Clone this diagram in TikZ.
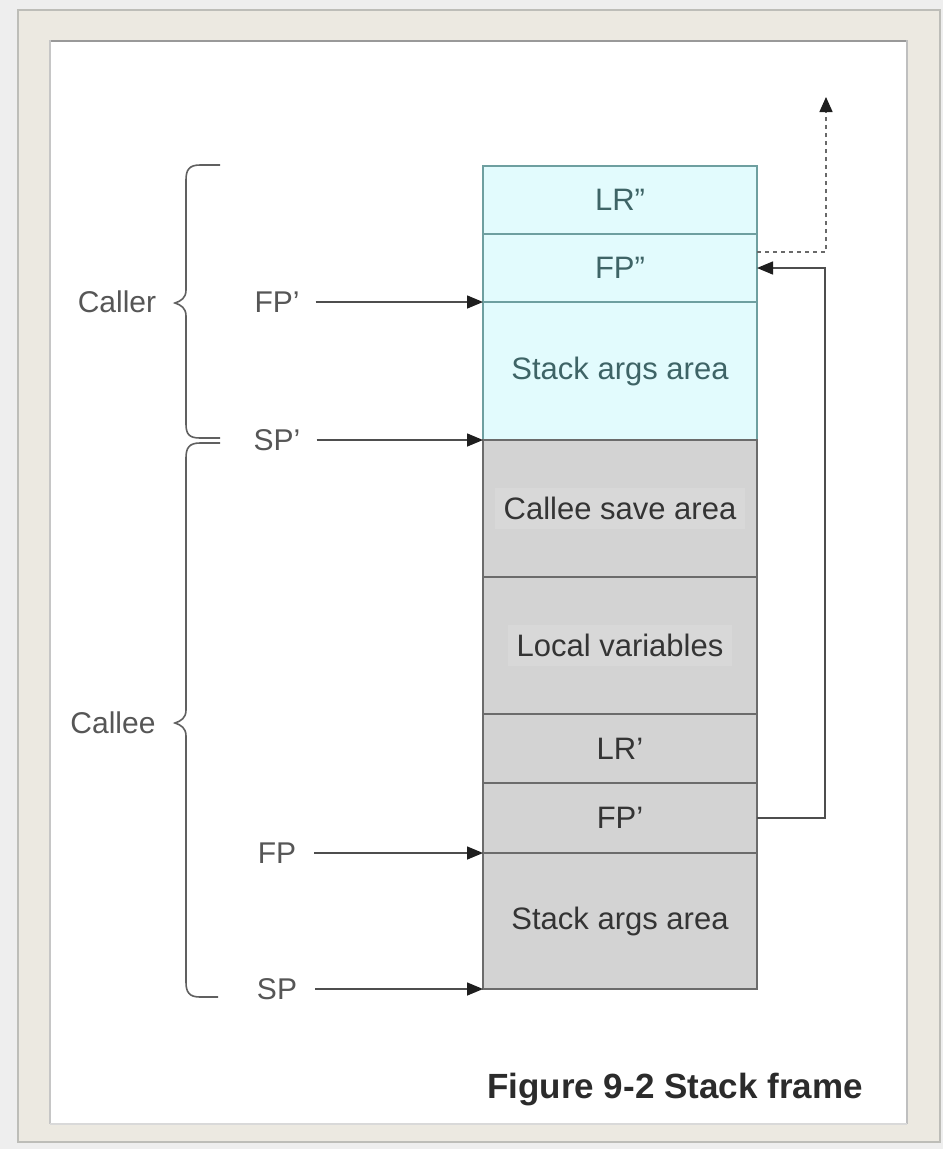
\documentclass[tikz,border=0pt]{standalone}
\usepackage{fontspec}
\setmainfont{Liberation Sans}
\usetikzlibrary{arrows.meta,calc}
\definecolor{bgout}{HTML}{EEEEEE}
\definecolor{framec}{HTML}{ECE9E1}
\definecolor{frameline}{HTML}{BDBDB8}
\definecolor{cyanfill}{HTML}{E2FBFD}
\definecolor{cyanedge}{HTML}{6E9FA0}
\definecolor{cyantext}{HTML}{3E6466}
\definecolor{greyfill}{HTML}{D3D3D3}
\definecolor{greyedge}{HTML}{6B6B6B}
\definecolor{greytext}{HTML}{343434}
\definecolor{lighttextbg}{HTML}{D8D8D8}
\definecolor{sidetext}{HTML}{565656}
\definecolor{linec}{HTML}{4E4E4E}
\definecolor{tipc}{HTML}{1E1E1E}
\definecolor{captionc}{HTML}{2B2B2B}
\begin{document}
\begin{tikzpicture}[x=1pt,y=-1pt,
  cellbase/.style={draw, line width=1.4pt, anchor=north west, minimum width=274pt,
    inner sep=0pt, outer sep=0pt, font=\fontsize{31}{37}\selectfont},
  cyancell/.style={cellbase, draw=cyanedge, fill=cyanfill, text=cyantext},
  greycell/.style={cellbase, draw=greyedge, fill=greyfill, text=greytext},
  sidelabel/.style={text=sidetext, font=\fontsize{30}{36}\selectfont, inner sep=0pt},
  ptr/.style={draw=linec, line width=1.5pt, -{Triangle[length=16pt,width=13pt,color=tipc]}},
  dashptr/.style={draw=linec!85, line width=1.5pt, dash pattern=on 4pt off 4pt,
    -{Triangle[length=15pt,width=13pt,color=tipc]}},
  bracestyle/.style={draw=linec!90, line width=1.6pt}
]
\useasboundingbox (0,0) rectangle (943,1149);
% background and frame
\fill[bgout] (0,0) rectangle (943,1149);
\fill[framec, draw=frameline, line width=1.5pt] (18,10) rectangle (940,1142);
\fill[white] (50,40) rectangle (907,1124);
\draw[gray!80, line width=2.2pt] (50,41) -- (907,41);
\draw[gray!45, line width=1.5pt] (50,40) -- (50,1124);
\draw[gray!50, line width=1.5pt] (907,40) -- (907,1124);
\draw[gray!30, line width=1.2pt] (50,1124) -- (907,1124);

% stack cells
\node[cyancell, minimum height=68pt] (lr2) at (483,166) {LR''};
\node[cyancell, minimum height=68pt] (fp2) at (483,234) {FP''};
\node[cyancell, minimum height=138pt] (sa1) at (483,302) {Stack args area};
\node[greycell, minimum height=137pt] (csa) at (483,440) {\setlength{\fboxsep}{9pt}\colorbox{lighttextbg}{Callee save area}};
\node[greycell, minimum height=137pt] (lv) at (483,577) {\setlength{\fboxsep}{9pt}\colorbox{lighttextbg}{Local variables}};
\node[greycell, minimum height=69pt] (lr1) at (483,714) {LR'};
\node[greycell, minimum height=70pt] (fp1) at (483,783) {FP'};
\node[greycell, minimum height=136pt] (sa2) at (483,853) {Stack args area};

% pointer labels
\node[sidelabel] (lfpp) at ($(sa1.north west)+(-206,0)$) {FP'};
\node[sidelabel] (lspp) at ($(csa.north west)+(-206,0)$) {SP'};
\node[sidelabel] (lfp) at ($(sa2.north west)+(-206,0)$) {FP};
\node[sidelabel] (lsp) at ($(sa2.south west)+(-206,0)$) {SP};

\draw[ptr] ([xshift=16pt]lfpp.east) -- (sa1.north west);
\draw[ptr] ([xshift=16pt]lspp.east) -- (csa.north west);
\draw[ptr] ([xshift=18pt]lfp.east) -- (sa2.north west);
\draw[ptr] ([xshift=18pt]lsp.east) -- (sa2.south west);

% saved frame pointer link
\draw[ptr] (fp1.east) -- ++(68,0) |- (fp2.east);
\coordinate (up) at (826,97);
\draw[dashptr] ([yshift=16pt]fp2.east) -| (up);

% braces
\node[sidelabel] (caller) at (117,302) {Caller};
\node[sidelabel] (callee) at (113,723) {Callee};
\draw[bracestyle] (220,165) -- (200,165) .. controls (189,165) and (186,170) .. (186,180)
  -- (186,290) .. controls (186,298) and (181,301) .. (175,303)
  .. controls (181,305) and (186,308) .. (186,316)
  -- (186,424) .. controls (186,434) and (189,438) .. (200,438) -- (220,438);
\draw[bracestyle] (220,443) -- (200,443) .. controls (189,443) and (186,448) .. (186,458)
  -- (186,710) .. controls (186,718) and (181,721) .. (175,723)
  .. controls (181,725) and (186,728) .. (186,736)
  -- (186,982) .. controls (186,992) and (189,997) .. (200,997) -- (218,997);

% caption
\node[text=captionc, font=\fontsize{35}{42}\selectfont\bfseries] (caption) at (675,1090) {Figure 9-2 Stack frame};
\end{tikzpicture}
\end{document}
